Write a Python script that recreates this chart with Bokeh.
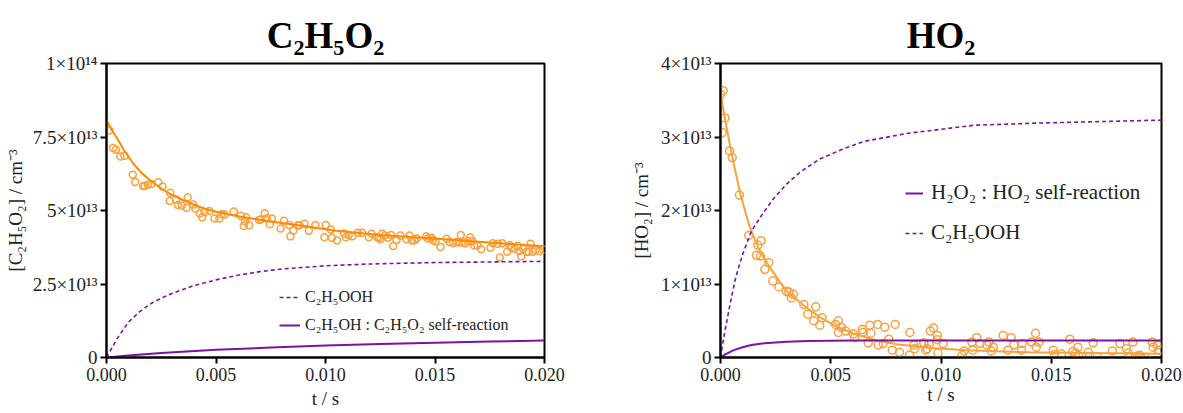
from bokeh.plotting import figure
from bokeh.layouts import row
from bokeh.models import Range1d, FixedTicker, NumeralTickFormatter, Legend, LegendItem
from bokeh.embed import file_html
from bokeh.resources import INLINE
import numpy as np

FONT = "Liberation Serif"

# ---------------- data (concentrations in units of 1e13 cm^-3) ----------------
# Left panel: C2H5O2
c2_obs_t = [0.000137, 0.000304, 0.000426, 0.000639, 0.000822, 0.00120, 0.00131, 0.00167, 0.00175, 0.00189,
            0.00205, 0.00236, 0.00256, 0.00291, 0.00289, 0.00317, 0.00326, 0.00344, 0.00365, 0.00371,
            0.00396, 0.00406, 0.00426, 0.00437, 0.00447, 0.00470, 0.00493, 0.00515, 0.00525, 0.00539,
            0.00581, 0.00613, 0.00627, 0.00638, 0.00632, 0.00651, 0.00697, 0.00705, 0.00723, 0.00732,
            0.00746, 0.00755, 0.00795, 0.00810, 0.00834, 0.00840, 0.00853, 0.00874, 0.00881, 0.00904,
            0.00924, 0.00954, 0.00995, 0.01001, 0.01024, 0.01029, 0.01053, 0.01085, 0.01093, 0.01106,
            0.01122, 0.01148, 0.01167, 0.01198, 0.01210, 0.01236, 0.01244, 0.01251, 0.01259, 0.01271,
            0.01285, 0.01300, 0.01309, 0.01324, 0.01342, 0.01370, 0.01384, 0.01394, 0.01406, 0.01416,
            0.01460, 0.01467, 0.01484, 0.01490, 0.01502, 0.01525, 0.01553, 0.01566, 0.01583, 0.01598,
            0.01609, 0.01618, 0.01627, 0.01639, 0.01650, 0.01661, 0.01670, 0.01679, 0.01693, 0.01711,
            0.01753, 0.01764, 0.01787, 0.01796, 0.01808, 0.01830, 0.01842, 0.01849, 0.01863, 0.01878,
            0.01884, 0.01894, 0.01903, 0.01918, 0.01927, 0.01936, 0.01947, 0.01960, 0.01976, 0.01994]
c2_obs = [7.72, 7.13, 7.07, 6.84, 6.86, 6.22, 5.97, 5.83, 5.83, 5.88,
          5.90, 5.96, 5.82, 5.60, 5.32, 5.37, 5.19, 5.16, 5.09, 5.45,
          5.20, 5.06, 4.90, 4.77, 4.94, 4.98, 4.73, 4.73, 4.87, 4.86,
          4.97, 4.82, 4.47, 4.77, 4.63, 4.50, 4.68, 4.69, 4.91, 4.74,
          4.53, 4.73, 4.39, 4.65, 4.51, 4.12, 4.32, 4.50, 4.50, 4.55,
          4.31, 4.51, 4.09, 4.51, 4.35, 4.07, 3.98, 4.22, 4.09, 4.17,
          4.12, 4.24, 4.24, 4.09, 4.21, 4.09, 4.07, 4.02, 4.21, 4.15,
          4.07, 4.17, 3.79, 4.00, 4.15, 4.02, 4.15, 3.98, 3.98, 4.05,
          4.12, 4.05, 4.07, 4.00, 3.95, 3.76, 4.04, 3.93, 3.89, 3.93,
          3.91, 4.17, 3.91, 3.88, 3.96, 4.09, 3.96, 3.81, 3.81, 3.68,
          3.73, 3.89, 3.87, 3.40, 3.89, 3.60, 3.82, 3.73, 3.70, 3.80,
          3.62, 3.44, 3.70, 3.60, 3.60, 3.87, 3.60, 3.66, 3.61, 3.67]
c2_fit_t = [0.0, 0.0, 0.0002, 0.000489, 0.0008, 0.00123, 0.0016, 0.00201, 0.0024, 0.00277, 0.00353, 0.00429,
            0.0050, 0.00581, 0.00734, 0.00886, 0.01038, 0.0125, 0.0151, 0.0175, 0.0200]
c2_fit = [0.0, 8.10, 7.78, 7.45, 7.05, 6.59, 6.28, 6.02, 5.80, 5.62, 5.34, 5.11,
          4.96, 4.83, 4.64, 4.49, 4.32, 4.17, 4.04, 3.91, 3.78]
c2_rooh_t = [0.0, 0.0005, 0.001, 0.0015, 0.002, 0.0025, 0.003, 0.004, 0.005, 0.006, 0.007, 0.008,
             0.010, 0.012, 0.015, 0.020]
c2_rooh = [0.0, 0.66, 1.20, 1.55, 1.82, 2.02, 2.18, 2.45, 2.64, 2.80, 2.92, 3.01,
           3.12, 3.18, 3.23, 3.27]
c2_roh_t = [0.0, 0.001, 0.0025, 0.005, 0.0075, 0.010, 0.0125, 0.015, 0.0175, 0.020]
c2_roh = [0.0, 0.07, 0.15, 0.26, 0.34, 0.41, 0.46, 0.50, 0.54, 0.58]

# Right panel: HO2
ho2_obs_t = [0.0, 0.00012, 0.0002, 0.00008, 0.00041, 0.00053, 0.00086, 0.00128, 0.00169, 0.00184, 0.00163, 0.00181,
             0.00219, 0.00201, 0.00237, 0.00265, 0.00299, 0.0031, 0.00321, 0.0033, 0.00378, 0.00396,
             0.00432, 0.00423, 0.0045, 0.00461, 0.00522, 0.00534, 0.00535, 0.00547, 0.00567, 0.00602,
             0.00609, 0.00643, 0.00645, 0.0067, 0.00677, 0.00682, 0.00712, 0.00715, 0.00738, 0.00745,
             0.00763, 0.00779, 0.00792, 0.00812, 0.00857, 0.00859, 0.00877, 0.0088, 0.00922, 0.00931,
             0.00937, 0.00946, 0.00952, 0.00966, 0.00983, 0.00986, 0.00983, 0.0101, 0.01096, 0.01105,
             0.01144, 0.0114, 0.01162, 0.01176, 0.01208, 0.01217, 0.01228, 0.01237, 0.01282, 0.01303,
             0.01318, 0.0133, 0.01365, 0.01368, 0.01411, 0.01429, 0.01432, 0.01444, 0.01509, 0.01515,
             0.01546, 0.01584, 0.01598, 0.0161, 0.01621, 0.01625, 0.01668, 0.0169, 0.01708, 0.01777,
             0.01811, 0.01841, 0.01849, 0.01859, 0.0187, 0.0189, 0.01902, 0.01908, 0.01927, 0.01958,
             0.01962, 0.0198, 0.01988]
ho2_obs = [3.58, 3.63, 3.26, 3.06, 2.81, 2.72, 2.21, 1.66, 1.53, 1.59, 1.39, 1.38,
           1.29, 1.20, 1.04, 0.96, 0.90, 0.89, 0.81, 0.86, 0.72, 0.59,
           0.69, 0.50, 0.44, 0.54, 0.45, 0.50, 0.34, 0.41, 0.36, 0.32,
           0.27, 0.38, 0.34, 0.20, 0.44, 0.33, 0.45, 0.17, 0.19, 0.41,
           0.25, 0.10, 0.45, 0.07, 0.03, 0.34, 0.17, 0.12, 0.20, 0.10,
           0.12, 0.18, 0.36, 0.40, 0.30, 0.06, 0.24, 0.19, 0.03, 0.09,
           0.10, 0.21, 0.27, 0.19, 0.17, 0.21, 0.09, 0.14, 0.30, 0.10,
           0.27, 0.17, 0.10, 0.19, 0.21, 0.33, 0.14, 0.21, 0.10, 0.04,
           0.05, 0.25, 0.08, 0.06, 0.14, 0.02, 0.07, 0.20, 0.01, 0.09,
           0.19, 0.12, 0.06, 0.01, 0.21, 0.02, 0.03, 0.00, 0.00, 0.21,
           0.14, 0.17, 0.10]
ho2_fit_t = [0.0, 0.0, 0.0002, 0.0005, 0.0009, 0.0013, 0.0017, 0.0022, 0.0030, 0.0038, 0.0045, 0.0052,
             0.0060, 0.0070, 0.0080, 0.0095, 0.0112, 0.0140, 0.0170, 0.0200]
ho2_fit = [0.0, 3.60, 3.25, 2.78, 2.22, 1.80, 1.50, 1.24, 0.90, 0.70, 0.55, 0.43,
           0.33, 0.24, 0.18, 0.13, 0.10, 0.07, 0.06, 0.05]
ho2_h2o2_t = [0.0, 0.0002, 0.0006, 0.001, 0.0014, 0.002, 0.003, 0.004, 0.006, 0.010, 0.020]
ho2_h2o2 = [0.0, 0.04, 0.10, 0.14, 0.17, 0.195, 0.215, 0.225, 0.23, 0.23, 0.23]
ho2_rooh_t = [0.0, 0.0002, 0.00045, 0.0007, 0.001, 0.0014, 0.0019, 0.0024, 0.003, 0.0036, 0.0045, 0.0055,
              0.0065, 0.0085, 0.0115, 0.0145, 0.020]
ho2_rooh = [0.0, 0.36, 0.75, 1.10, 1.40, 1.72, 1.95, 2.16, 2.36, 2.52, 2.70, 2.83,
            2.94, 3.05, 3.16, 3.19, 3.23]

x_ticks = [0.0, 0.005, 0.010, 0.015, 0.020]
c2_yticks = [0.0, 2.5, 5.0, 7.5, 10.0]
c2_ylabels = ["0", "2.5×10¹³", "5×10¹³", "7.5×10¹³", "1×10¹⁴"]
ho2_yticks = [0.0, 1.0, 2.0, 3.0, 4.0]
ho2_ylabels = ["0", "1×10¹³", "2×10¹³", "3×10¹³", "4×10¹³"]

ORANGE_FIT = "#ff8a00"
ORANGE_FIT2 = "#f7a23c"
ORANGE_PT = "#f9a03f"
PURPLE = "#7a12a6"


def make_fig(title, width, left, right, bottom, ymax, yticks, ylabels, ylabel, ylab_standoff, xlab_standoff):
    p = figure(width=width, height=413, output_backend="svg", toolbar_location=None,
               x_range=Range1d(0, 0.02), y_range=Range1d(0, ymax),
               min_border_left=left, min_border_right=right, min_border_top=63, min_border_bottom=bottom)
    p.title.text = title
    p.title.align = "center"
    p.title.text_font = FONT
    p.title.text_font_size = "37px"
    p.title.text_font_style = "bold"
    p.title.text_color = "black"
    p.title.standoff = 16
    p.grid.visible = False
    p.outline_line_color = "black"
    p.outline_line_width = 2
    p.background_fill_color = "white"
    p.border_fill_color = "white"
    for ax in (p.xaxis[0], p.yaxis[0]):
        ax.axis_line_color = "black"
        ax.axis_line_width = 2
        ax.major_tick_line_color = "black"
        ax.major_tick_line_width = 2
        ax.major_tick_in = 0
        ax.major_tick_out = 6
        ax.minor_tick_line_color = None
        ax.major_label_text_font = FONT
        ax.major_label_text_font_size = "18px"
        ax.major_label_text_color = "#222222"
        ax.axis_label_text_font = FONT
        ax.axis_label_text_font_size = "19px"
        ax.axis_label_text_font_style = "normal"
        ax.axis_label_text_color = "#222222"
    p.yaxis.major_label_text_font_size = "19px"
    p.xaxis.ticker = FixedTicker(ticks=x_ticks)
    p.xaxis.formatter = NumeralTickFormatter(format="0.000")
    p.xaxis.axis_label = "t / s"
    p.xaxis.axis_label_standoff = xlab_standoff
    p.xaxis.major_label_standoff = 4
    p.yaxis.ticker = FixedTicker(ticks=yticks)
    p.yaxis.major_label_overrides = {k: v for k, v in zip(yticks, ylabels)}
    p.yaxis.axis_label = ylabel
    p.yaxis.major_label_standoff = 3
    p.yaxis.axis_label_standoff = ylab_standoff
    return p


# ---------------- left figure ----------------
p1 = make_fig("C₂H₅O₂", 608, 106, 64, 56, 10, c2_yticks, c2_ylabels, "[C₂H₅O₂] / cm⁻³", 4, 4)
p1.scatter(c2_obs_t, c2_obs, marker="circle", size=7, fill_color=None, line_color=ORANGE_PT, line_width=1.5)
p1.line(c2_fit_t, c2_fit, line_color=ORANGE_FIT, line_width=2)
r1a = p1.line(c2_rooh_t, c2_rooh, line_color=PURPLE, line_width=1.6, line_dash="4 3")
r1b = p1.line(c2_roh_t, c2_roh, line_color=PURPLE, line_width=2)
leg1 = Legend(items=[LegendItem(label="C₂H₅OOH", renderers=[r1a]),
                     LegendItem(label="C₂H₅OH : C₂H₅O₂ self-reaction", renderers=[r1b])],
              location=(173, 22), label_text_font=FONT, label_text_font_size="16px",
              label_text_color="#222222", background_fill_alpha=0, border_line_alpha=0,
              padding=0, margin=0, spacing=8, label_height=20, glyph_height=20, glyph_width=21,
              label_standoff=5)
p1.add_layout(leg1)

# ---------------- right figure ----------------
p2 = make_fig("HO₂", 575, 112, 22, 54, 4, ho2_yticks, ho2_ylabels, "[HO₂] / cm⁻³", 6, 0)
p2.scatter(ho2_obs_t, ho2_obs, marker="circle", size=8, fill_color=None, line_color=ORANGE_PT, line_width=1.5)
p2.line(ho2_fit_t, ho2_fit, line_color=ORANGE_FIT2, line_width=2)
r2b = p2.line(ho2_rooh_t, ho2_rooh, line_color=PURPLE, line_width=1.6, line_dash="4 3")
r2a = p2.line(ho2_h2o2_t, ho2_h2o2, line_color=PURPLE, line_width=2)
leg2 = Legend(items=[LegendItem(label="H₂O₂ : HO₂ self-reaction", renderers=[r2a]),
                     LegendItem(label="C₂H₅OOH", renderers=[r2b])],
              location=(185, 112), label_text_font=FONT, label_text_font_size="21px",
              label_text_color="#222222", background_fill_alpha=0, border_line_alpha=0,
              padding=0, margin=0, spacing=15, label_height=24, glyph_height=24, glyph_width=18,
              label_standoff=8)
p2.add_layout(leg2)

layout = row(p1, p2)
open("out.html", "w").write(file_html(layout, INLINE))
